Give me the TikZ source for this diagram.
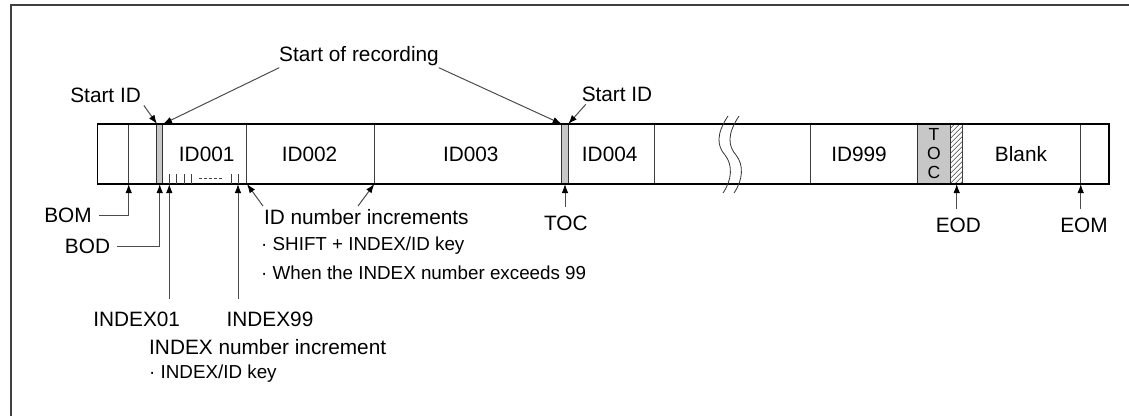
\documentclass[tikz,border=0pt]{standalone}
\usepackage{fontspec}
\setmainfont{Liberation Sans}
\usetikzlibrary{positioning, arrows.meta}

\begin{document}
\begin{tikzpicture}[x=1pt, y=-1pt,
    font=\fontsize{20.8}{25}\selectfont,
    lbl/.style={inner sep=0pt},
    tag/.style={inner sep=0pt, outer ysep=9pt},
    note/.style={inner sep=0pt, font=\fontsize{18.8}{22}\selectfont},
    cell/.style={draw=black!75, line width=0.8pt},
    strip/.style={fill=black!22, draw=black!80, line width=0.8pt},
    ptr/.style={draw=black!70, line width=1pt, -{Latex[length=9pt,width=6.5pt,color=black]}}]
\useasboundingbox (0,0) rectangle (1129,416);

% frame
\draw[black!75, line width=2pt] (11,416) |- (1129,5);

% tape
\filldraw[strip] (156.7,124) rectangle (162.7,184);
\filldraw[strip] (561.7,124) rectangle (568.3,184);
\filldraw[strip] (917.3,124) rectangle (950.7,184);
\foreach \x in {128.7,246.7,374.3,654.3,810.7,1080.7}
    \draw[cell] (\x,124) -- (\x,184);
\begin{scope}
    \clip (950.7,124) rectangle (962.7,184);
    \foreach \k in {0,...,13}
        \draw[black!75, line width=0.6pt] (950.7,128+\k*5) -- ++(14,-14);
\end{scope}
\draw[cell] (962.7,124) -- (962.7,184);
\draw[black, line width=1.2pt] (97.7,124) rectangle (1109,184);

% break
\foreach \s in {0,11}
    \draw[black!80, line width=0.8pt, xshift=\s] (728,116) .. controls (716,134) and (717,146) .. (725,155)
        .. controls (733,165) and (732,180) .. (723,193);

% index ticks
\foreach \x in {169.3,176.7,184.3,191,231,238}
    \draw[cell] (\x,174.3) -- (\x,184);
\draw[black!75, line width=0.7pt, dash pattern=on 3pt off 2pt] (199,178.3) -- (222,178.3);

% cell texts
\node[lbl] (id001) at (206.7,154.5) {ID001};
\node[lbl] (id002) at (309.5,154.5) {ID002};
\node[lbl] (id003) at (470.8,154.5) {ID003};
\node[lbl] (id004) at (609.7,154.5) {ID004};
\node[lbl] (id999) at (859,154) {ID999};
\node[lbl] (blank) at (1021,154) {Blank};
\node[lbl, align=center, font=\fontsize{17.5}{19}\selectfont] (tocbox) at (934,154) {T\\O\\C};

% points on the tape
\coordinate (st1a) at (157,124);
\coordinate (st1b) at (163,124);
\coordinate (st2a) at (561.7,124);
\coordinate (st2b) at (568.3,124);
\coordinate (bom-pt) at (128.7,184);
\coordinate (bod-pt) at (159.7,184);
\coordinate (i01-pt) at (169.3,184);
\coordinate (i99-pt) at (238,184);
\coordinate (inc1-pt) at (247,184);
\coordinate (inc2-pt) at (374.3,184);
\coordinate (toc-pt) at (565,184);
\coordinate (eod-pt) at (956.7,184);
\coordinate (eom-pt) at (1080.7,184);

% labels above
\node[lbl, outer sep=2pt] (rec) at (359,56) {Start of recording};
\node[lbl, outer sep=3pt] (sida) at (105.6,95) {Start ID};
\node[lbl, outer sep=3pt] (sidb) at (617,94) {Start ID};
\draw[ptr] ([xshift=2pt]rec.south west) -- (st1b);
\draw[ptr] ([xshift=-2pt]rec.south east) -- (st2a);
\draw[ptr] (sida.south east) -- (st1a);
\draw[ptr] ([xshift=7pt]sidb.south west) -- (st2b);

% labels below
\node[lbl] (bom) at (68,215) {BOM};
\node[lbl] (bod) at (87.5,246) {BOD};
\draw[ptr] ([xshift=7pt]bom.east) -| (bom-pt);
\draw[ptr] ([xshift=7pt]bod.east) -| (bod-pt);

\node[lbl, outer ysep=13pt] (idx01) at (136.7,319) {INDEX01};
\node[lbl, outer ysep=13pt] (idx99) at (270,319) {INDEX99};
\draw[ptr] (idx01.north -| i01-pt) -- (i01-pt);
\draw[ptr] (idx99.north -| i99-pt) -- (i99-pt);
\node[lbl, anchor=west] (idxinc) at (149,346.7) {INDEX number increment};
\node[note, anchor=west] (idxkey) at (149,374) {· INDEX/ID key};

\node[lbl, anchor=west, outer sep=3pt] (incr) at (261,216.7) {ID number increments};
\draw[ptr] ([xshift=2pt]incr.north west) -- (inc1-pt);
\draw[ptr] ([xshift=97pt]incr.north west) -- (inc2-pt);
\node[note, anchor=west] (shift) at (261,246) {· SHIFT + INDEX/ID key};
\node[note, anchor=west] (exceed) at (261,273) {· When the INDEX number exceeds 99};

\node[tag] (toc) at (565.8,223) {TOC};
\node[tag] (eod) at (958.3,225) {EOD};
\node[tag] (eom) at (1084,225) {EOM};
\draw[ptr] (toc.north -| toc-pt) -- (toc-pt);
\draw[ptr] (eod.north -| eod-pt) -- (eod-pt);
\draw[ptr] (eom.north -| eom-pt) -- (eom-pt);
\end{tikzpicture}
\end{document}
